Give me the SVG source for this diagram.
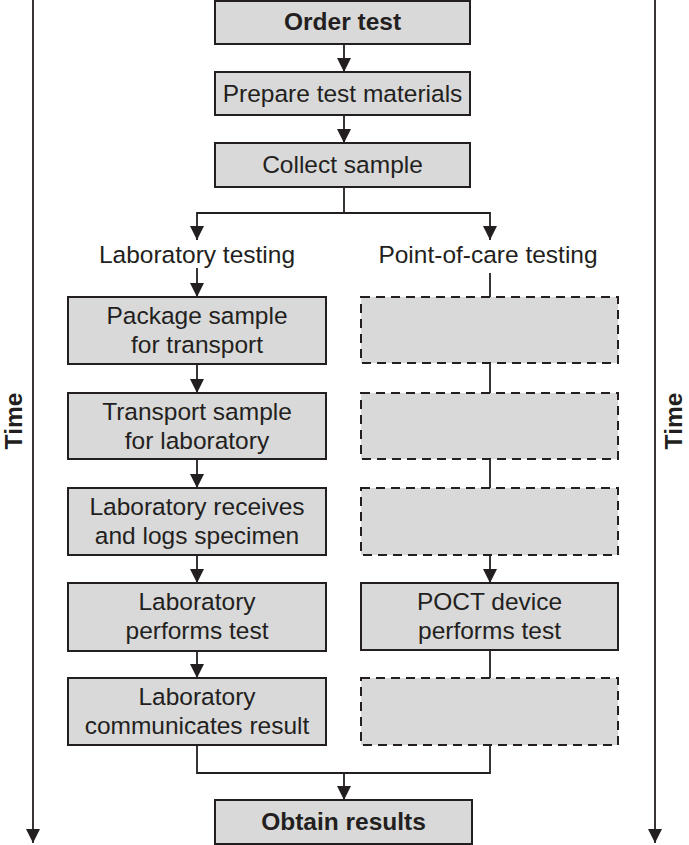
<svg xmlns="http://www.w3.org/2000/svg" width="689" height="845" viewBox="0 0 689 845">
<style>
.box{fill:#d9d9d9;stroke:#231f20;stroke-width:2}
.dash{fill:#d9d9d9;stroke:#231f20;stroke-width:2;stroke-dasharray:9 6}
.t{font-family:"Liberation Sans",Arial,sans-serif;font-size:24.5px;fill:#231f20;text-anchor:middle}
.b{font-weight:bold}
.c{fill:none;stroke:#231f20;stroke-width:1.8}
.a{marker-end:url(#ah)}
</style>
<defs>
<marker id="ah" viewBox="0 0 14 14" refX="14" refY="7" markerWidth="14" markerHeight="15" markerUnits="userSpaceOnUse" orient="auto">
<path d="M0,0 L14,7 L0,14 z" fill="#231f20"/>
</marker>
</defs>
<rect width="689" height="845" fill="#ffffff"/>
<g id="connectors">
<path class="c a" d="M33,0 V843"/>
<path class="c a" d="M655,0 V843"/>
<path class="c a" d="M344,44 V72"/>
<path class="c a" d="M344,115 V143"/>
<path class="c a" d="M344,187 V213 H197 V240"/>
<path class="c a" d="M344,213 H490 V240"/>
<path class="c a" d="M197,268 V297"/>
<path class="c" d="M490,273 V297"/>
<path class="c a" d="M197,364 V393"/>
<path class="c a" d="M197,459 V488"/>
<path class="c a" d="M197,555 V583"/>
<path class="c a" d="M197,651 V678"/>
<path class="c" d="M490,363 V393"/>
<path class="c" d="M490,459 V488"/>
<path class="c a" d="M490,555 V583"/>
<path class="c" d="M490,650 V678"/>
<path class="c" d="M197,745 V773 H490 V745"/>
<path class="c a" d="M344,773 V800"/>
</g>
<g id="time-left"><text class="t b" transform="translate(22,421) rotate(-90)">Time</text></g>
<g id="time-right"><text class="t b" transform="translate(682,421) rotate(-90)">Time</text></g>
<g id="order-test"><rect class="box" x="215" y="1" width="255" height="43"/><text class="t b" x="342.5" y="30">Order test</text></g>
<g id="prepare"><rect class="box" x="215" y="72" width="255" height="43"/><text class="t" x="342.5" y="102">Prepare test materials</text></g>
<g id="collect"><rect class="box" x="215" y="143" width="255" height="44"/><text class="t" x="342.5" y="173">Collect sample</text></g>
<g id="lab-label"><text class="t" x="197" y="263">Laboratory testing</text></g>
<g id="poc-label"><text class="t" x="488" y="263">Point-of-care testing</text></g>
<g id="package"><rect class="box" x="68" y="297" width="258" height="67"/><text class="t" x="197" y="323.5">Package sample</text><text class="t" x="197" y="352.5">for transport</text></g>
<g id="transport"><rect class="box" x="68" y="393" width="258" height="66"/><text class="t" x="197" y="419.5">Transport sample</text><text class="t" x="197" y="448.5">for laboratory</text></g>
<g id="receives"><rect class="box" x="68" y="488" width="258" height="67"/><text class="t" x="197" y="514.5">Laboratory receives</text><text class="t" x="197" y="543.5">and logs specimen</text></g>
<g id="lab-performs"><rect class="box" x="68" y="583" width="258" height="68"/><text class="t" x="197" y="610">Laboratory</text><text class="t" x="197" y="639">performs test</text></g>
<g id="communicates"><rect class="box" x="68" y="678" width="258" height="67"/><text class="t" x="197" y="704.5">Laboratory</text><text class="t" x="197" y="733.5">communicates result</text></g>
<g id="poc-empty-1"><rect class="dash" x="361" y="297" width="257" height="66"/></g>
<g id="poc-empty-2"><rect class="dash" x="361" y="393" width="257" height="66"/></g>
<g id="poc-empty-3"><rect class="dash" x="361" y="488" width="257" height="67"/></g>
<g id="poct-performs"><rect class="box" x="361" y="583" width="257" height="67"/><text class="t" x="489.5" y="610">POCT device</text><text class="t" x="489.5" y="639">performs test</text></g>
<g id="poc-empty-4"><rect class="dash" x="361" y="678" width="257" height="67"/></g>
<g id="obtain"><rect class="box" x="215" y="800" width="257" height="44"/><text class="t b" x="343.5" y="830">Obtain results</text></g>
</svg>
